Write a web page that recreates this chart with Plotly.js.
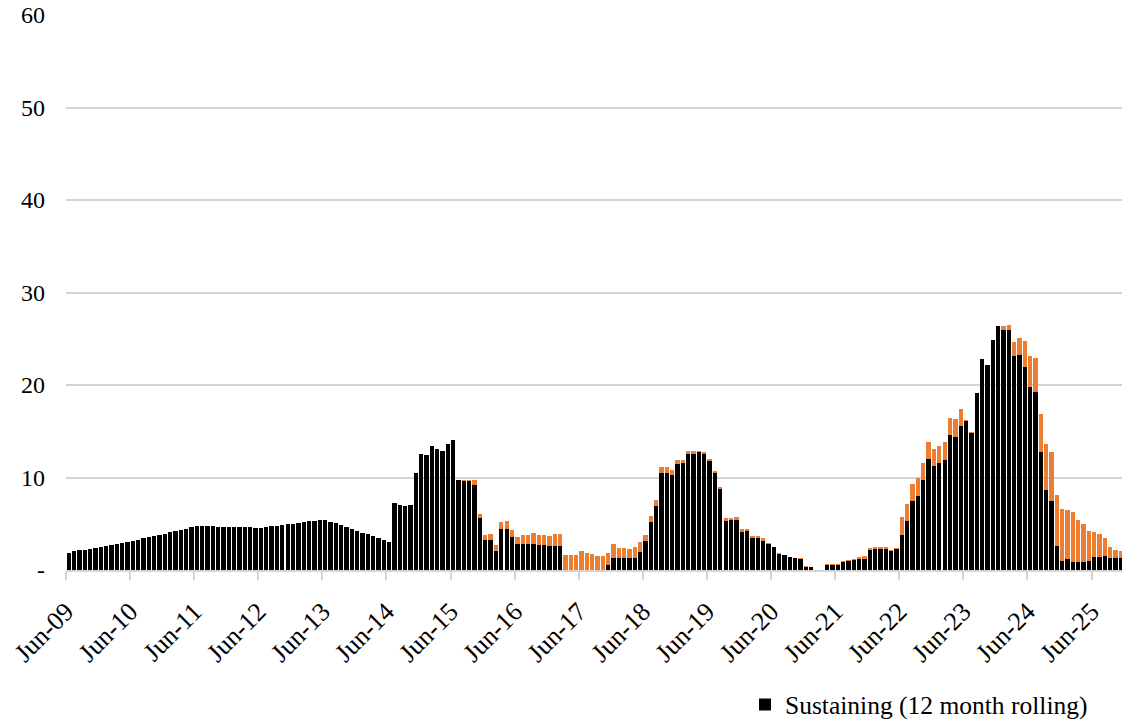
<!DOCTYPE html>
<html>
<head>
<meta charset="utf-8">
<script src="https://cdn.plot.ly/plotly-3.0.1.min.js"></script>
<style>
  html, body { margin: 0; padding: 0; background: #ffffff; }
  #chart { width: 1122px; height: 722px; }
</style>
</head>
<body>
<div id="chart"></div>
<script>
// Monthly series, Jun-09 .. Nov-25 (198 months)
var firstMonth = { year: 2009, month: 6 };

// Sustaining (12 month rolling) - black
var sustaining = [
  // Jun-09 .. Jun-11
  1.87, 2.02, 2.13, 2.2, 2.27, 2.38, 2.49, 2.59, 2.74, 2.85, 2.95, 3.03, 3.17, 3.28, 3.42, 3.53, 3.68, 3.82, 3.93, 4.07, 4.22, 4.32, 4.47, 4.61, 4.76,
  // Jul-11 .. May-12
  4.76, 4.72, 4.72, 4.68, 4.68, 4.65, 4.65, 4.63, 4.61, 4.6, 4.58,
  // Jun-12 .. Jun-14
  4.54, 4.65, 4.72, 4.79, 4.86, 4.94, 5.01, 5.08, 5.16, 5.26, 5.33, 5.41, 5.44, 5.23, 5.05, 4.83, 4.61, 4.4, 4.22, 4.04, 3.86, 3.64, 3.46, 3.27, 3.05,
  // Jul-14 .. Jun-15
  7.22, 7.03, 6.87, 7.03, 10.45, 12.57, 12.4, 13.4, 13.1, 12.85, 13.6, 14.1,
  // Jul-15 .. Feb-17
  9.73, 9.65, 9.58, 9.22, 5.59, 3.28, 3.21, 2.02, 4.47, 4.47, 3.57, 2.85, 2.85, 2.85, 2.85, 2.74, 2.74, 2.63, 2.6, 2.6,
  // Mar-17 .. Oct-17
  0, 0, 0, 0, 0, 0, 0, 0,
  // Nov-17 .. May-18
  0.55, 1.33, 1.33, 1.33, 1.33, 1.33, 1.95,
  // Jun-18 .. May-19
  3.17, 5.15, 6.95, 10.52, 10.52, 10.23, 11.5, 11.6, 12.5, 12.58, 12.8, 12.55,
  // Jun-19 .. May-20
  11.78, 10.45, 8.72, 5.33, 5.37, 5.44, 4.14, 4.2, 3.46, 3.46, 3.17, 2.81,
  // Jun-20 .. Jan-21
  2.49, 1.69, 1.59, 1.44, 1.25, 1.22, 0.35, 0.28,
  // Feb-21 .. Mar-21
  0, 0,
  // Apr-21 .. May-22
  0.55, 0.55, 0.55, 0.9, 0.94, 1.05, 1.19, 1.19, 2.13, 2.24, 2.24, 2.24, 2.02, 2.24,
  // Jun-22 .. Jul-23
  3.82, 5.3, 7.5, 8.04, 9.77, 11.96, 11.24, 11.6, 11.93, 14.6, 14.4, 15.6, 16.14, 14.83,
  // Aug-23 .. Jul-24
  19.17, 22.85, 22.16, 24.86, 26.38, 25.95, 25.95, 23.17, 23.24, 21.91, 19.78, 19.28,
  // Aug-24 .. Nov-25
  12.78, 8.65, 7.5, 2.63, 0.98, 1.15, 0.86, 0.86, 0.88, 0.98, 1.37, 1.37, 1.5, 1.32, 1.28, 1.26
];

// Second (orange) component stacked on top
var other = [
  // Jun-09 .. Jun-15
  0, 0, 0, 0, 0, 0, 0, 0, 0, 0, 0, 0, 0, 0, 0, 0, 0, 0, 0, 0, 0, 0, 0, 0, 0,
  0, 0, 0, 0, 0, 0, 0, 0, 0, 0, 0,
  0, 0, 0, 0, 0, 0, 0, 0, 0, 0, 0, 0, 0, 0, 0, 0, 0, 0, 0, 0, 0, 0, 0, 0, 0,
  0, 0, 0, 0, 0, 0, 0, 0, 0, 0, 0, 0,
  // Jul-15 .. Feb-17
  0, 0.05, 0.15, 0.48, 0.43, 0.5, 0.64, 0.65, 0.76, 0.79, 0.75, 0.75, 0.93, 0.93, 1.18, 1.04, 1.04, 1.05, 1.33, 1.33,
  // Mar-17 .. Oct-17
  1.6, 1.6, 1.6, 2.02, 1.8, 1.77, 1.55, 1.55,
  // Nov-17 .. May-18
  1.32, 1.44, 1.08, 1.08, 0.94, 1.16, 1.04,
  // Jun-18 .. May-19
  0.65, 0.65, 0.58, 0.62, 0.62, 0.62, 0.39, 0.29, 0.36, 0.25, 0.05, 0.17,
  // Jun-19 .. May-20
  0.22, 0.25, 0.29, 0.29, 0.25, 0.25, 0.29, 0.27, 0.25, 0.25, 0.25, 0.11,
  // Jun-20 .. Jan-21
  0, 0.15, 0.03, 0.02, 0.05, 0.06, 0.05, 0.05,
  // Feb-21 .. Mar-21
  0, 0,
  // Apr-21 .. May-22
  0.1, 0.1, 0.1, 0.1, 0.18, 0.18, 0.21, 0.32, 0.25, 0.21, 0.21, 0.21, 0.11, 0.14,
  // Jun-22 .. Jul-23
  1.87, 1.87, 1.8, 1.87, 1.83, 1.84, 1.84, 1.8, 1.87, 1.85, 1.9, 1.86, 0.13, 0.09,
  // Aug-23 .. Jul-24
  0, 0, 0, 0, 0, 0.46, 0.54, 1.48, 1.84, 2.85, 3.36, 3.6,
  // Aug-24 .. Nov-25
  4.12, 4.94, 5.29, 5.47, 5.58, 5.34, 5.43, 4.57, 4.1, 3.22, 2.73, 2.47, 1.98, 1.22, 0.88, 0.79
];

var tickLabels = ["Jun-09","Jun-10","Jun-11","Jun-12","Jun-13","Jun-14","Jun-15","Jun-16",
                  "Jun-17","Jun-18","Jun-19","Jun-20","Jun-21","Jun-22","Jun-23","Jun-24","Jun-25"];
var yTickValues = [0, 10, 20, 30, 40, 50, 60];
var yTickLabels = ["-", "10", "20", "30", "40", "50", "60"];

// Month labels (categories) for each bar
var monNames = ["Jan","Feb","Mar","Apr","May","Jun","Jul","Aug","Sep","Oct","Nov","Dec"];
var months = [];
for (var i = 0; i < sustaining.length; i++) {
  var m = (firstMonth.month - 1 + i);
  var yr = firstMonth.year + Math.floor(m / 12);
  months.push(monNames[m % 12] + "-" + String(yr % 100).padStart(2, "0"));
}
// bar centres on a month-index axis; ticks sit on month boundaries
var xPos = months.map(function (_, k) { return k + 0.5; });
var tickPos = tickLabels.map(function (_, k) { return k * 12; });

var FONT = "Liberation Serif, Times New Roman, serif";

var traces = [
  {
    type: "bar", name: "Sustaining (12 month rolling)",
    x: xPos, y: sustaining, text: months, hoverinfo: "text+y", textposition: "none",
    marker: { color: "#000000" }
  },
  {
    type: "bar", name: "Other", showlegend: false,
    x: xPos, y: other, text: months, hoverinfo: "text+y", textposition: "none",
    marker: { color: "#ED7D31" }
  }
];

var layout = {
  width: 1122, height: 722,
  margin: { l: 66, r: 0, t: 15, b: 152, autoexpand: false },
  paper_bgcolor: "#ffffff", plot_bgcolor: "#ffffff",
  barmode: "stack", bargap: 0.19,
  font: { family: FONT, size: 24, color: "#000000" },
  xaxis: {
    range: [0, 197.7], automargin: false,
    tickmode: "array", tickvals: tickPos, ticktext: tickLabels,
    tickangle: -45, ticks: "outside", ticklen: 8, tickwidth: 2, tickcolor: "#d4d4d4",
    showline: true, linecolor: "#d4d4d4", linewidth: 2,
    showgrid: false, zeroline: false,
    ticklabelstandoff: 6,
    tickfont: { family: FONT, size: 26, color: "#000000" }
  },
  yaxis: {
    range: [0, 60], automargin: false,
    tickmode: "array", tickvals: yTickValues, ticktext: yTickLabels,
    showgrid: true, gridcolor: "#d4d4d4", gridwidth: 2,
    zeroline: false, showline: false, ticks: "",
    ticklabelstandoff: 20,
    tickfont: { family: FONT, size: 24, color: "#000000" }
  },
  showlegend: true,
  legend: {
    orientation: "h", x: 0.643, xanchor: "left", y: -0.243, yanchor: "middle",
    font: { family: FONT, size: 25.5, color: "#000000" },
    bgcolor: "rgba(0,0,0,0)"
  }
};

Plotly.newPlot("chart", traces, layout, { displayModeBar: false, staticPlot: true });
</script>
</body>
</html>
